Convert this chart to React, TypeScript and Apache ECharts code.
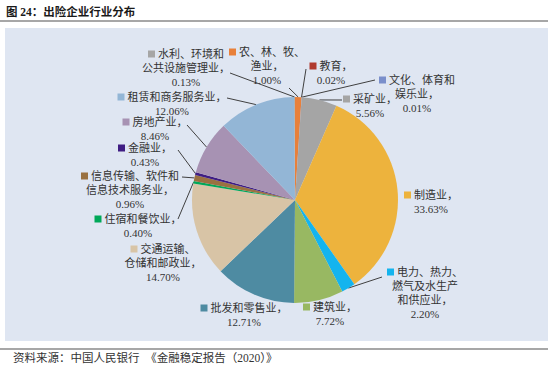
import React, { useEffect, useRef } from "react";
import * as echarts from "echarts";

// Industry categories (clockwise from 12 o'clock), with manual line breaks as in the reference
const categories = [
  "农、林、牧、\n渔业",
  "教育",
  "文化、体育和\n娱乐业",
  "采矿业",
  "制造业",
  "电力、热力、\n燃气及水生产\n和供应业",
  "建筑业",
  "批发和零售业",
  "交通运输、\n仓储和邮政业",
  "住宿和餐饮业",
  "信息传输、软件和\n信息技术服务业",
  "金融业",
  "房地产业",
  "租赁和商务服务业",
  "水利、环境和\n公共设施管理业",
];
const shares = [1.0, 0.02, 0.01, 5.56, 33.63, 2.2, 7.72, 12.71, 14.7, 0.4, 0.96, 0.43, 8.46, 12.06, 0.13];
const colors = [
  "#E8803A", "#B03A2E", "#7A8FCB", "#A5A5A5", "#EDB33D", "#14B4EE", "#98B862", "#4E8BA2",
  "#D8C4A6", "#00A859", "#9A7141", "#3F1D83", "#A792B3", "#93B6D6", "#A6A6A6",
];

// Label placement (block centre x, block top y) and leader line end near label (or null)
const labelPlace: { x: number; y: number; line: [number, number] | null }[] = [
  { x: 267, y: 45, line: [289, 88] },
  { x: 331, y: 59, line: [306, 69] },
  { x: 417, y: 73, line: [375, 80] },
  { x: 370, y: 92, line: [342, 100] },
  { x: 431, y: 188, line: null },
  { x: 425, y: 265, line: [382, 277] },
  { x: 330, y: 300, line: null },
  { x: 244, y: 301, line: null },
  { x: 163, y: 242, line: null },
  { x: 138, y: 212, line: [178, 219] },
  { x: 130, y: 169, line: [182, 177] },
  { x: 145, y: 141, line: [178, 150] },
  { x: 155, y: 115, line: [187, 125] },
  { x: 172, y: 90, line: [227, 98] },
  { x: 186, y: 47, line: [230, 73] },
];

const titleText = "图 24：出险企业行业分布";
const sourceText = "资料来源：中国人民银行  《金融稳定报告（2020）》";

const FONT = "'Liberation Serif', 'Noto Sans CJK SC', serif";

export default function App() {
  const ref = useRef<HTMLDivElement>(null);
  useEffect(() => {
    document.body.style.margin = "0";
    if (!ref.current) return;
    const chart = echarts.init(ref.current, null, { renderer: "svg" });

    const rich: any = {
      t: { fontSize: 11, lineHeight: 14, color: "#333333", fontFamily: FONT, align: "center" },
      g: { width: 3, fontSize: 11, lineHeight: 14 },
    };
    colors.forEach((c, i) => {
      rich["s" + i] = { width: 7, height: 7, backgroundColor: c, fontSize: 7 };
    });

    const data = categories.map((name, i) => ({
      name,
      value: shares[i],
      itemStyle: { color: colors[i] },
      labelLine: { show: labelPlace[i].line !== null },
    }));

    chart.setOption({
      animation: false,
      backgroundColor: "#ffffff",
      graphic: [
        {
          type: "rect",
          z: -10,
          shape: { x: 5, y: 28, width: 543, height: 313 },
          style: { fill: "#DFE6F2" },
        },
        {
          type: "line",
          shape: { x1: 0, y1: 21, x2: 548, y2: 21 },
          style: { stroke: "#8a8a8a", lineWidth: 1.5 },
        },
        {
          type: "line",
          shape: { x1: 0, y1: 349, x2: 548, y2: 349 },
          style: { stroke: "#8a8a8a", lineWidth: 1.5 },
        },
        {
          type: "text",
          x: 6,
          y: 12,
          style: {
            text: titleText,
            fontSize: 11.5,
            fontWeight: "bold",
            fontFamily: FONT,
            fill: "#1a1a1a",
            verticalAlign: "middle",
          },
        },
        {
          type: "text",
          x: 13,
          y: 358,
          style: {
            text: sourceText,
            fontSize: 11.5,
            fontFamily: FONT,
            fill: "#333",
            verticalAlign: "middle",
          },
        },
      ],
      series: [
        {
          type: "pie",
          center: [295, 200],
          radius: 103,
          startAngle: 90,
          clockwise: true,
          avoidLabelOverlap: false,
          data,
          itemStyle: { borderWidth: 0 },
          emphasis: { disabled: true },
          label: {
            show: true,
            position: "outside",
            rich,
            formatter: (p: any) => {
              const i = p.dataIndex;
              const lines = categories[i].split("\n");
              lines[lines.length - 1] += "，";
              lines.push(shares[i].toFixed(2) + "%");
              return lines
                .map((l, k) => (k === 0 ? `{s${i}| }{g| }` : "") + `{t|${l}}`)
                .join("\n");
            },
          },
          labelLine: {
            show: true,
            length: 10,
            length2: 10,
            lineStyle: { color: "#404040", width: 1 },
          },
          labelLayout: (params: any) => {
            const L = labelPlace[params.dataIndex];
            const res: any = { x: L.x, y: L.y, align: "center", verticalAlign: "top" };
            if (L.line && params.labelLinePoints) {
              const p0 = params.labelLinePoints[0];
              res.labelLinePoints = [[p0[0], p0[1]], [L.line[0], L.line[1]], [L.line[0], L.line[1]]];
            }
            return res;
          },
        },
      ],
    });
    return () => chart.dispose();
  }, []);
  return <div ref={ref} style={{ width: 550, height: 368 }} />;
}
